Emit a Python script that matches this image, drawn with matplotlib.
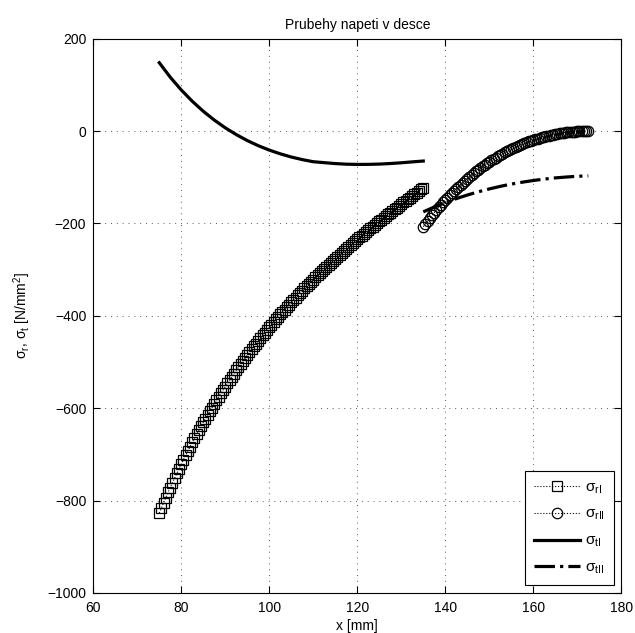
import numpy as np
import matplotlib
matplotlib.use("Agg")
import matplotlib.pyplot as plt

plt.rcParams["font.family"] = ["Liberation Sans", "DejaVu Sans"]
plt.rcParams["mathtext.fontset"] = "custom"
plt.rcParams["mathtext.rm"] = "Liberation Sans"
plt.rcParams["mathtext.it"] = "Liberation Sans:italic"
plt.rcParams["mathtext.bf"] = "Liberation Sans:bold"

# radius grids [mm]
x_I = np.linspace(75, 135, 121)        # inner ring, 0.5 mm step
x_II = np.linspace(135, 172.5, 76)     # outer ring, 0.5 mm step
x_tI = np.linspace(75, 135, 25)        # 2.5 mm step
x_tII = np.linspace(135, 172.5, 16)    # 2.5 mm step

# radial stress, inner ring [N/mm^2]
sigma_rI = [
    -827.0, -815.6, -804.3, -793.3, -782.4, -771.7, -761.2, -750.9, -740.8, -730.8,
    -721.0, -711.3, -701.8, -692.4, -683.2, -674.2, -665.2, -656.4, -647.8, -639.3,
    -630.9, -622.6, -614.4, -606.4, -598.5, -590.6, -582.9, -575.3, -567.8, -560.4,
    -553.1, -545.9, -538.8, -531.8, -524.9, -518.1, -511.3, -504.7, -498.1, -491.6,
    -485.1, -478.8, -472.5, -466.3, -460.2, -454.1, -448.2, -442.2, -436.4, -430.6,
    -424.9, -419.2, -413.6, -408.0, -402.5, -397.1, -391.7, -386.4, -381.1, -375.9,
    -370.7, -365.6, -360.6, -355.5, -350.5, -345.6, -340.7, -335.9, -331.1, -326.3,
    -321.6, -316.9, -312.3, -307.7, -303.1, -298.6, -294.1, -289.6, -285.2, -280.8,
    -276.5, -272.1, -267.8, -263.6, -259.3, -255.1, -251.0, -246.8, -242.7, -238.6,
    -234.6, -230.5, -226.5, -222.5, -218.6, -214.7, -210.8, -206.9, -203.0, -199.2,
    -195.4, -191.6, -187.8, -184.0, -180.3, -176.6, -172.9, -169.2, -165.6, -161.9,
    -158.3, -154.7, -151.1, -147.5, -144.0, -140.5, -136.9, -133.4, -129.9, -126.5,
    -123.0,
]

# radial stress, outer ring [N/mm^2]
sigma_rII = [
    -207.0, -200.7, -194.5, -188.5, -182.5, -176.7, -171.0, -165.5, -160.0, -154.6,
    -149.4, -144.3, -139.3, -134.4, -129.6, -124.9, -120.3, -115.9, -111.5, -107.2,
    -103.0, -99.0, -95.0, -91.1, -87.3, -83.7, -80.1, -76.6, -73.1, -69.8,
    -66.6, -63.5, -60.4, -57.4, -54.6, -51.8, -49.1, -46.4, -43.9, -41.4,
    -39.0, -36.7, -34.5, -32.3, -30.2, -28.2, -26.3, -24.5, -22.7, -21.0,
    -19.3, -17.8, -16.3, -14.9, -13.5, -12.2, -11.0, -9.9, -8.8, -7.8,
    -6.8, -5.9, -5.1, -4.4, -3.7, -3.0, -2.5, -2.0, -1.5, -1.1,
    -0.8, -0.5, -0.3, -0.2, -0.1, 0.0,
]

# tangential stress, inner ring [N/mm^2]
sigma_tI = [
    147.8, 116.4, 88.8, 64.4, 42.7, 23.7, 6.9, -7.8, -20.7, -31.8,
    -41.3, -49.4, -56.3, -61.9, -66.5, -68.5, -70.5, -71.8, -72.3, -72.2,
    -71.6, -70.4, -68.8, -66.8, -65.0,
]

# tangential stress, outer ring [N/mm^2]
sigma_tII = [
    -175.0, -164.5, -154.9, -146.4, -138.6, -131.6, -125.4, -119.8, -114.9, -110.8,
    -107.1, -104.1, -101.5, -99.6, -98.0, -97.0,
]

labels = ["σ$_{\\mathrm{rI}}$", "σ$_{\\mathrm{rII}}$",
          "σ$_{\\mathrm{tI}}$", "σ$_{\\mathrm{tII}}$"]

fig = plt.figure(figsize=(6.35, 6.33), dpi=100)
ax = fig.add_axes([0.1469, 0.0632, 0.8315, 0.8758])

ax.plot(x_I, sigma_rI, ls=":", lw=0.8, color="k", marker="s", ms=6.5,
        mfc="none", mec="k", mew=0.9, label=labels[0])
ax.plot(x_II, sigma_rII, ls=":", lw=0.8, color="k", marker="o", ms=7.5,
        mfc="none", mec="k", mew=0.9, label=labels[1])
ax.plot(x_tI, sigma_tI, ls="-", lw=2.3, color="k", label=labels[2])
ax.plot(x_tII, sigma_tII, ls="-.", lw=2.3, color="k", label=labels[3])

ax.set_xlim(60, 180)
ax.set_ylim(-1000, 200)
ax.set_xticks(np.arange(60, 181, 20))
ax.set_yticks(np.arange(-1000, 201, 200))
ax.grid(True, color="0.35", ls=(0, (1, 5)), lw=0.7)
ax.tick_params(direction="in", top=True, right=True, length=5, width=0.8,
               labelsize=10)
ax.tick_params(axis="x", pad=6)
ax.tick_params(axis="y", pad=5)
for sp in ax.spines.values():
    sp.set_linewidth(0.8)

ax.set_title("Prubehy napeti v desce", fontsize=10, pad=7)
ax.set_xlabel("x [mm]", fontsize=10, labelpad=3)
ax.set_ylabel("σ$_{\\mathrm{r}}$, σ$_{\\mathrm{t}}$ [N/mm$^2$]",
              fontsize=10, labelpad=10)

leg = ax.legend(loc="lower right", fontsize=11, handlelength=3.0,
                labelspacing=0.75, fancybox=False, framealpha=1,
                edgecolor="k", borderpad=0.6, handletextpad=0.3)
leg.get_frame().set_linewidth(0.8)

fig.savefig("out.png", dpi=100)
